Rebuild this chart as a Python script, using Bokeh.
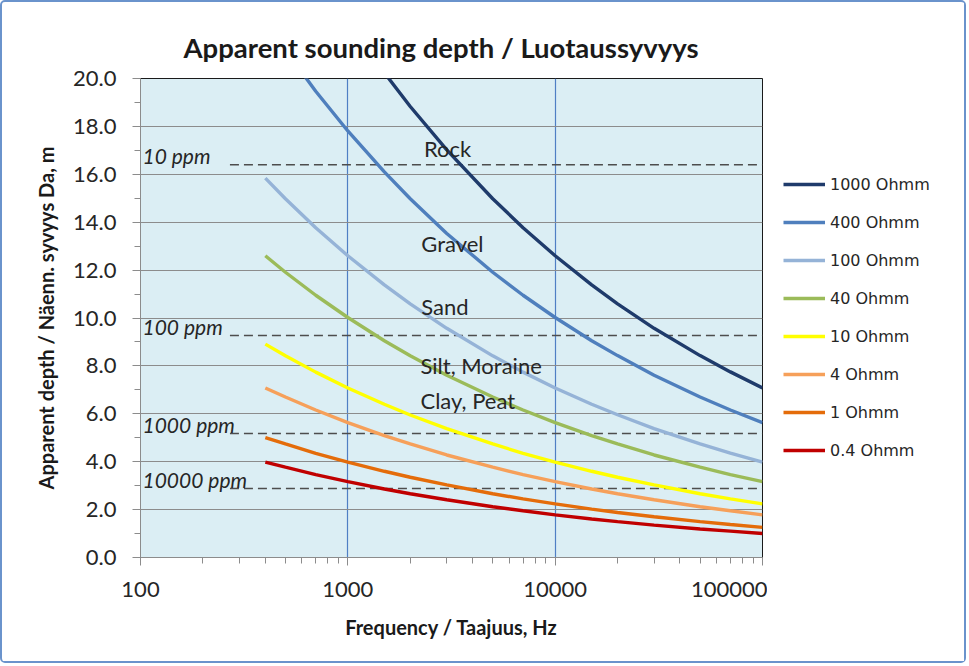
from bokeh.plotting import figure
from bokeh.layouts import row
from bokeh.models import FixedTicker, PrintfTickFormatter, Legend, LegendItem
from bokeh.core.properties import value
from bokeh.embed import file_html
from bokeh.resources import INLINE

# ---------------- data ----------------
freq = [400, 500, 700, 1000, 1500, 2000, 3000, 5000, 7000, 10000, 15000, 20000, 30000, 50000, 70000, 100000]

series_names = ["1000 Ohmm", "400 Ohmm", "100 Ohmm", "40 Ohmm", "10 Ohmm", "4 Ohmm", "1 Ohmm", "0.4 Ohmm"]
depth_1000 = [28.16, 26.64, 24.49, 22.40, 20.24, 18.83, 17.02, 14.98, 13.77, 12.60, 11.38, 10.59, 9.57, 8.43, 7.75, 7.08]
depth_400 = [22.40, 21.19, 19.47, 17.81, 16.10, 14.98, 13.53, 11.91, 10.95, 10.02, 9.05, 8.43, 7.61, 6.70, 6.16, 5.63]
depth_100 = [15.84, 14.98, 13.77, 12.60, 11.38, 10.59, 9.57, 8.42, 7.74, 7.08, 6.40, 5.96, 5.38, 4.74, 4.36, 3.98]
depth_40 = [12.60, 11.91, 10.95, 10.02, 9.05, 8.42, 7.61, 6.70, 6.16, 5.63, 5.09, 4.74, 4.28, 3.77, 3.46, 3.17]
depth_10 = [8.91, 8.42, 7.74, 7.08, 6.40, 5.95, 5.38, 4.74, 4.35, 3.98, 3.60, 3.35, 3.03, 2.66, 2.45, 2.24]
depth_4 = [7.08, 6.70, 6.16, 5.63, 5.09, 4.74, 4.28, 3.77, 3.46, 3.17, 2.86, 2.66, 2.41, 2.12, 1.95, 1.78]
depth_1 = [5.01, 4.74, 4.35, 3.98, 3.60, 3.35, 3.03, 2.66, 2.45, 2.24, 2.02, 1.88, 1.70, 1.50, 1.38, 1.26]
depth_04 = [3.98, 3.77, 3.46, 3.17, 2.86, 2.66, 2.41, 2.12, 1.95, 1.78, 1.61, 1.50, 1.35, 1.19, 1.10, 1.00]
series_colors = ["#1f3b6b", "#4f7fbd", "#95b3d7", "#9bbb59", "#ffff00", "#f6a05a", "#e46c0a", "#c00000"]

ppm_labels = ["10 ppm", "100 ppm", "1000 ppm", "10000 ppm"]
ppm_depth = [16.4, 9.27, 5.18, 2.88]
ppm_start = 270
ppm_end = 100000

region_names = ["Rock", "Gravel", "Sand", "Silt, Moraine", "Clay, Peat"]
region_freq = [2330, 2260, 2260, 2240, 2240]
region_depth = [17.08, 13.11, 10.48, 8.02, 6.56]

y_ticks = [0, 2, 4, 6, 8, 10, 12, 14, 16, 18, 20]
y_minor = [1, 3, 5, 7, 9, 11, 13, 15, 17, 19]
x_ticks = [100, 1000, 10000, 100000]
x_minor = [200, 300, 400, 500, 600, 700, 800, 900,
           2000, 3000, 4000, 5000, 6000, 7000, 8000, 9000,
           20000, 30000, 40000, 50000, 60000, 70000, 80000, 90000]

FONT = "Lato"
TXT = "#262626"

W_MAIN = 765
W_LEG = 197
H = 659

p = figure(width=W_MAIN, height=H, x_axis_type="log",
           x_range=(100, 100000), y_range=(0, 20),
           output_backend="svg", toolbar_location=None,
           min_border_left=138, min_border_right=5,
           min_border_top=76, min_border_bottom=104)

p.background_fill_color = "#dbeef4"
p.border_fill_color = "white"
p.outline_line_color = "#1a1a1a"
p.outline_line_width = 1

# title
p.title.text = "Apparent sounding depth / Luotaussyvyys"
p.title.align = "left"
p.title.text_font = FONT
p.title.text_font_size = "27.5px"
p.title.text_font_style = "bold"
p.title.text_color = "#1a1a1a"
p.title.offset = 43
p.title.standoff = 29

# grids
p.ygrid.ticker = FixedTicker(ticks=y_ticks)
p.ygrid.grid_line_color = "#8c8c8c"
p.ygrid.grid_line_width = 1
p.xgrid.ticker = FixedTicker(ticks=[1000, 10000])
p.xgrid.grid_line_color = "#4f7fc4"
p.xgrid.grid_line_width = 1.2

# axes
p.yaxis.ticker = FixedTicker(ticks=y_ticks, minor_ticks=y_minor)
p.yaxis.formatter = PrintfTickFormatter(format="%.1f")
p.xaxis.ticker = FixedTicker(ticks=x_ticks, minor_ticks=x_minor)
p.xaxis.formatter = PrintfTickFormatter(format="%d")
for ax in (p.xaxis[0], p.yaxis[0]):
    ax.axis_line_color = "#8c8c8c"
    ax.major_tick_line_color = "#8c8c8c"
    ax.minor_tick_line_color = "#8c8c8c"
    ax.major_tick_in = 0
    ax.major_tick_out = 8
    ax.minor_tick_in = 0
    ax.minor_tick_out = 6
    ax.major_label_text_font = FONT
    ax.major_label_text_font_size = "22px"
    ax.major_label_text_color = TXT
    ax.axis_label_text_font = FONT
    ax.axis_label_text_font_size = "20px"
    ax.axis_label_text_font_style = "bold"
    ax.axis_label_text_color = "#1a1a1a"
p.yaxis.axis_label = "Apparent depth / Näenn. syvyys Da, m"
p.xaxis.axis_label = "Frequency / Taajuus, Hz"
p.yaxis.major_label_standoff = 16
p.yaxis.axis_label_standoff = 12
p.xaxis.major_label_standoff = 16
p.xaxis.axis_label_standoff = 15

# ppm reference lines
for d in ppm_depth:
    p.segment(x0=ppm_start, y0=d, x1=ppm_end, y1=d,
              line_color="#4d4d4d", line_width=1.5, line_dash="9 5")
p.text(x=[100] * len(ppm_labels), y=[d + 0.37 for d in ppm_depth], text=ppm_labels,
       x_offset=2, text_font=value(FONT), text_font_size="21px", text_font_style="italic",
       text_color=TXT, text_baseline="middle", text_align="left")

# curves
all_depths = [depth_1000, depth_400, depth_100, depth_40, depth_10, depth_4, depth_1, depth_04]
for ys, col in zip(all_depths, series_colors):
    p.line(freq, ys, line_color=col, line_width=3.4)

# region labels
p.text(x=region_freq, y=region_depth, text=region_names,
       text_font=value(FONT), text_font_size="22px", text_color=TXT,
       text_baseline="middle", text_align="left")

# legend panel (separate figure to the right of the plot area; its frame is
# aligned with the main frame, the series lie outside its ranges so only the
# legend shows)
pl = figure(width=W_LEG, height=H, x_range=(0, 1), y_range=(0, 1),
            output_backend="svg", toolbar_location=None,
            min_border=0, min_border_left=0, min_border_right=0,
            min_border_top=0, min_border_bottom=0)
pl.axis.visible = False
pl.grid.visible = False
pl.outline_line_color = None
pl.background_fill_color = "white"
pl.border_fill_color = "white"
items = []
for name, ys, col in zip(series_names, all_depths, series_colors):
    r = pl.line(freq, ys, line_color=col, line_width=3.4)
    items.append(LegendItem(label=name, renderers=[r]))

legend = Legend(items=items, location=(16, 97))
legend.glyph_width = 42
legend.glyph_height = 20
legend.label_height = 20
legend.spacing = 18
legend.padding = 0
legend.margin = 0
legend.label_standoff = 5
legend.label_text_font = "DejaVu Sans"
legend.label_text_font_size = "16px"
legend.label_text_color = TXT
legend.border_line_color = None
legend.background_fill_alpha = 0
pl.add_layout(legend, "center")

layout = row(p, pl, spacing=0)
layout.styles = {"border": "2px solid #6a93cc", "border-radius": "5px"}

open("out.html", "w").write(file_html(layout, INLINE))
